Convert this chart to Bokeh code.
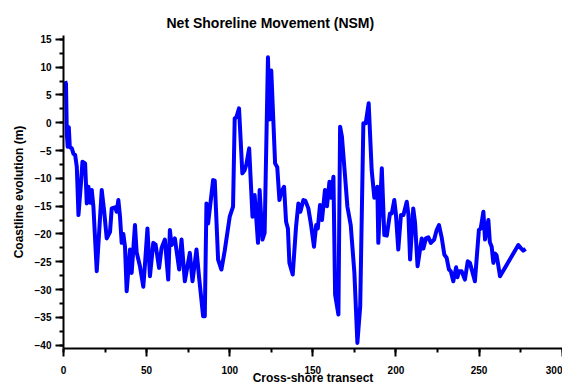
from bokeh.plotting import figure
from bokeh.models import Range1d, SingleIntervalTicker, Title
from bokeh.embed import file_html
from bokeh.resources import INLINE

transect = [1, 1.5, 2, 2.5, 3.2, 3.8, 5, 6, 7, 8, 9, 10.5, 11.4, 13, 14, 15, 16, 17, 18, 20,
            23, 24.5, 26, 28, 29, 31, 32, 33, 34, 35, 36, 37, 38, 40, 41, 43, 44, 46, 48, 49,
            50.5, 52, 54, 55.4, 57.5, 59, 61, 63, 64, 65, 67, 69.6, 71, 73, 76, 77.6, 80, 81.6, 84, 85,
            86, 87, 88, 90, 91, 93, 95, 97, 100, 102, 103, 104, 105.6, 107.6, 109, 110, 111.7, 113.7, 115, 117,
            118, 119.7, 121, 123, 124, 125, 127.3, 128.6, 129.9, 131, 132.7, 133.9, 135, 135.9, 137.9, 139.9, 141.3, 142.5, 144.3, 145.5,
            147.3, 149, 150.7, 152, 153, 154.3, 155.5, 157.3, 158.5, 160, 161, 162.4, 163.4, 165.4, 166.4, 167.5, 169.4, 170.8, 172.8, 175,
            176.8, 178.5, 180.4, 181.8, 183.6, 185.4, 187, 188.8, 189.4, 191.5, 193, 194.5, 196.4, 197.5, 199, 200, 201.4, 203, 204.5, 206.5,
            207.5, 208.5, 210.4, 211.5, 213, 214.5, 215.5, 216.5, 218, 219.5, 221, 223, 224.5, 225.9, 227.5, 229.1, 230.5, 231.9, 233, 234.5,
            236.2, 237, 237.9, 239.5, 241.5, 243.2, 244.5, 247.5, 249.9, 251, 252.6, 253.6, 255.6, 256.5, 257.6, 258.6, 259.5, 260.5, 261.5, 262.6,
            273.6, 275, 276.6, 278]

nsm = [7.5, 7.0, -2.0, -4.3, -0.8, -4.4, -4.6, -5.6, -5.8, -7.9, -16.6, -10.9, -7.0, -7.3, -14.5, -11.5, -14.4, -12.1, -15.1, -26.7,
       -12.1, -16.0, -20.8, -19.6, -15.4, -15.2, -16.0, -13.9, -16.9, -21.6, -20.0, -22.3, -30.3, -22.8, -27.0, -18.4, -23.3, -25.8, -29.5, -25.5,
       -19.0, -27.6, -21.6, -21.9, -26.1, -22.5, -21.0, -28.2, -19.3, -22.0, -20.8, -26.4, -21.0, -28.5, -23.4, -28.5, -22.8, -27.9, -34.8, -34.8,
       -14.5, -18.1, -15.5, -10.3, -10.4, -24.6, -26.4, -23.0, -16.9, -15.1, 0.8, 1.0, 2.6, -9.1, -8.5, -7.5, -4.6, -16.9, -13.0, -21.6,
       -12.1, -21.0, -19.8, 11.8, 0.6, 9.4, -7.3, -8.0, -13.9, -12.5, -11.5, -17.8, -19.0, -25.2, -27.3, -18.7, -14.5, -16.0, -13.9, -14.0,
       -15.4, -18.5, -22.3, -18.4, -19.0, -14.8, -17.5, -12.1, -15.0, -10.6, -13.5, -9.7, -30.9, -34.5, -0.7, -2.5, -9.7, -15.1, -18.4, -27.0,
       -39.6, -33.0, -0.1, -0.1, 3.5, -8.5, -13.5, -11.5, -21.6, -8.2, -20.2, -20.3, -16.3, -16.3, -13.9, -16.5, -22.8, -16.6, -16.6, -14.2,
       -16.5, -24.6, -15.4, -18.0, -25.8, -22.8, -20.8, -22.6, -20.8, -20.6, -21.6, -21.0, -19.3, -18.4, -20.6, -23.7, -24.3, -26.4, -26.7, -28.5,
       -26.0, -27.8, -26.7, -26.7, -28.2, -24.9, -25.2, -28.5, -19.3, -19.0, -16.0, -21.0, -17.5, -21.5, -22.3, -25.2, -23.5, -23.8, -25.5, -27.6,
       -22.0, -22.5, -23.0, -22.7]

title_text = "Net Shoreline Movement (NSM)"
x_label = "Cross-shore transect"
y_label = "Coastline evolution (m)"

FONT = "Liberation Sans"

p = figure(width=562, height=387, output_backend="svg", toolbar_location=None,
           x_range=Range1d(0, 300.2), y_range=Range1d(-40.6, 15.7),
           min_border_left=63, min_border_right=0, min_border_top=35, min_border_bottom=38)
p.title = Title(text=title_text, align="left", offset=103, text_font=FONT,
                text_font_size="14px", text_font_style="bold", text_color="black")

p.line(transect, nsm, line_color="#0000FF", line_width=4, line_join="round")

p.xgrid.visible = False
p.ygrid.visible = False
p.outline_line_color = None

p.xaxis.ticker = SingleIntervalTicker(interval=50, num_minor_ticks=2)
p.yaxis.ticker = SingleIntervalTicker(interval=5, num_minor_ticks=2)
for ax in (p.xaxis[0], p.yaxis[0]):
    ax.axis_line_width = 2
    ax.axis_line_color = "black"
    ax.major_tick_line_width = 2
    ax.minor_tick_line_width = 2
    ax.major_tick_line_color = "black"
    ax.minor_tick_line_color = "black"
    ax.major_tick_in = 0
    ax.major_tick_out = 8
    ax.minor_tick_in = 0
    ax.minor_tick_out = 4
    ax.major_label_text_font = FONT
    ax.major_label_text_font_style = "bold"
    ax.major_label_text_font_size = "10px"
    ax.major_label_text_color = "black"
    ax.axis_label_text_font = FONT
    ax.axis_label_text_font_style = "bold"
    ax.axis_label_text_font_size = "12px"
    ax.axis_label_text_color = "black"
p.xaxis.axis_label = x_label
p.yaxis.axis_label = y_label
p.xaxis.major_label_standoff = 9
p.xaxis.axis_label_standoff = -6
p.yaxis.major_label_standoff = 4
p.yaxis.axis_label_standoff = 6

open("out.html", "w").write(file_html(p, INLINE))
